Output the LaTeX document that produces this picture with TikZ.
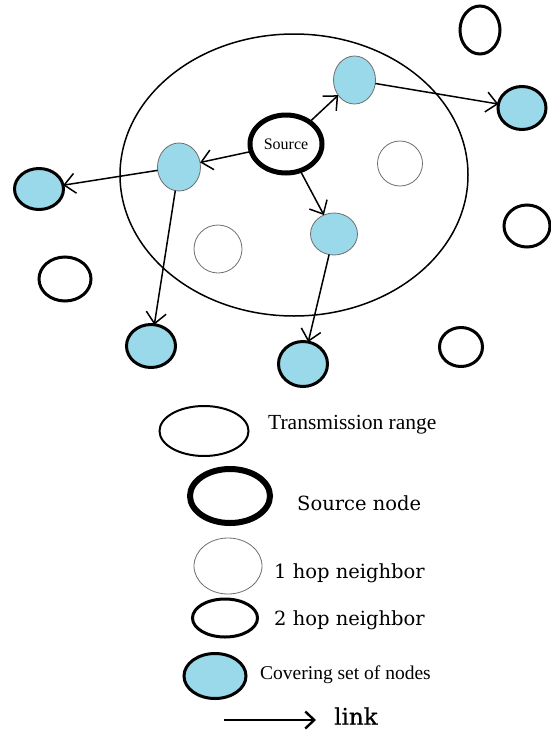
\documentclass[tikz,border=0pt]{standalone}
\usepackage{fontspec}
\setmainfont{Liberation Serif}
\newfontfamily\dvs{DejaVu Serif}
\newfontfamily\dvsb[FakeBold=0.6]{DejaVu Serif}
\usetikzlibrary{shapes.geometric,arrows.meta}
\definecolor{cover}{RGB}{153,217,234}
\definecolor{thingray}{RGB}{110,110,110}
\begin{document}
\begin{tikzpicture}[x=1pt,y=-1pt,
  sz/.style 2 args={ellipse,inner sep=0pt,outer sep=0pt,minimum width=#1pt,minimum height=#2pt},
  rangebox/.style={draw=black,line width=1.5pt},
  srcbox/.style={draw=black,line width=5pt},
  hopone/.style={draw=thingray,line width=0.8pt},
  hoptwo/.style={draw=black,line width=3pt},
  coverin/.style={draw=thingray,line width=0.8pt,fill=cover},
  coverout/.style={draw=black,line width=3pt,fill=cover},
  link/.style={line width=1.5pt,-{Straight Barb[length=11pt,width=20pt,line width=1.5pt]}},
  legendlink/.style={line width=2.4pt,-{Straight Barb[length=9pt,width=17pt,line width=2.4pt]}},
  lbl/.style={anchor=west,inner sep=0pt}]
\useasboundingbox (0,0) rectangle (551,731);
% transmission range
\node[sz={348}{282},rangebox] (range) at (294,175) {};
% 1-hop plain neighbours
\node[sz={45}{45},hopone] (d) at (400,163.5) {};
\node[sz={48}{48},hopone] (e) at (218,249) {};
% covering nodes inside range
\node[sz={42}{48},coverin] (a) at (354.5,80) {};
\node[sz={43}{48},coverin] (b) at (179,167) {};
\node[sz={47}{42},coverin] (c) at (334,234) {};
% source
\node[sz={72}{58},srcbox,font=\fontsize{16}{18}\selectfont] (src) at (286,144) {Source};
% 2-hop plain
\node[sz={40}{48},hoptwo] (t1) at (480,30) {};
\node[sz={46}{42},hoptwo] (g) at (527,226) {};
\node[sz={52}{44},hoptwo] (i) at (65,279) {};
\node[sz={43}{39},hoptwo] (l) at (461,347) {};
% 2-hop covering
\node[sz={48}{43},coverout] (f) at (522,108) {};
\node[sz={49}{41},coverout] (h) at (39,189) {};
\node[sz={49}{43},coverout] (j) at (151,346) {};
\node[sz={49}{45},coverout] (k) at (303,364) {};
% links
\draw[link] (src) -- (a);
\draw[link] (src) -- (b);
\draw[link] (src) -- (c);
\draw[link] (a) -- (f);
\draw[link] (b) -- (h);
\draw[link] (b) -- (j);
\draw[link] (c) -- (k);
% legend
\node[sz={89}{50},draw=black,line width=2pt] (lrange) at (204,431) {};
\node[sz={80}{54},draw=black,line width=6pt] (lsrc) at (230,496) {};
\node[sz={68}{56},hopone] (lhop1) at (228,566) {};
\node[sz={65}{38},hoptwo] (lhop2) at (225,618) {};
\node[sz={62}{45},coverout] (lcov) at (215,676) {};
\coordinate (la) at (224,720);
\coordinate (lb) at (316,720);
\draw[legendlink] (la) -- (lb);
\node[lbl,font=\fontsize{21.5}{24}\selectfont] (t-range) at (268,425) {Transmission range};
\node[lbl,font=\dvs\fontsize{19.5}{22}\selectfont] (t-src) at (297,503) {Source node};
\node[lbl,font=\dvs\fontsize{19.5}{22}\selectfont] (t-hop1) at (274,573) {1 hop neighbor};
\node[lbl,font=\dvs\fontsize{19.5}{22}\selectfont] (t-hop2) at (274,620) {2 hop neighbor};
\node[lbl,font=\fontsize{19.5}{22}\selectfont] (t-cov) at (260,675) {Covering set of nodes};
\node[lbl,font=\dvsb\fontsize{23}{26}\selectfont] (t-link) at (334,716) {link};
\end{tikzpicture}
\end{document}
